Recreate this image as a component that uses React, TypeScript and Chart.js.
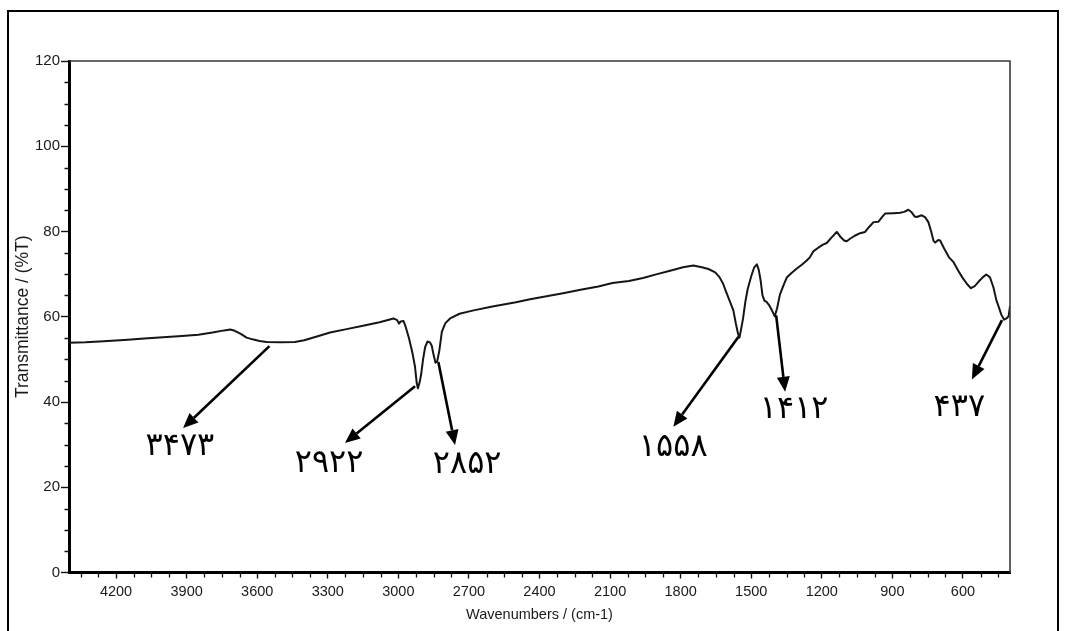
import { useEffect, useRef } from "react";
import { Chart, registerables } from "chart.js";
Chart.register(...registerables);

// Spectrum: wavenumber (cm-1) and transmittance (%T)
const wavenumbers = [
  4400, 4330, 4270, 4200, 4150, 4080, 4000, 3920, 3850, 3790, 3740, 3715, 3695, 3670, 3645, 3620, 3590, 3560,
  3500, 3440, 3400, 3350, 3290, 3220, 3150, 3080, 3040, 3021, 3005, 2997, 2990, 2978, 2968, 2955, 2940, 2929,
  2922, 2917, 2910, 2903, 2895, 2886, 2876, 2866, 2858, 2850, 2842, 2835, 2826, 2815, 2800, 2780, 2740, 2680,
  2600, 2500, 2440, 2370, 2300, 2220, 2150, 2090, 2020, 1960, 1900, 1845, 1790, 1746, 1710, 1682, 1653, 1635,
  1620, 1605, 1590, 1576, 1565, 1556, 1550, 1544, 1535, 1525, 1515, 1500, 1488, 1476, 1468, 1460, 1452, 1444,
  1435, 1425, 1412, 1400, 1390, 1378, 1362, 1349, 1330, 1306, 1285, 1264, 1250, 1235, 1215, 1195, 1179, 1160,
  1145, 1136, 1120, 1105, 1094, 1080, 1060, 1037, 1016, 1000, 980, 959, 945, 931, 895, 867, 850, 832, 818, 805,
  796, 775, 760, 747, 735, 725, 718, 705, 697, 680, 660, 640, 620, 600, 580, 566, 550, 534, 515, 501, 490, 484,
  470, 458, 449, 437, 425, 415, 406, 400,
];
const transmittance = [
  53.9, 54.0, 54.2, 54.4, 54.6, 54.9, 55.2, 55.5, 55.8, 56.3, 56.8, 57.0, 56.7, 56.0, 55.1, 54.7, 54.3, 54.1,
  54.0, 54.1, 54.5, 55.3, 56.3, 57.1, 57.9, 58.7, 59.3, 59.6, 59.2, 58.4, 58.9, 59.0, 57.5, 55.0, 51.5, 48.2,
  44.5, 43.2, 44.5, 46.5, 50.0, 52.9, 54.2, 54.0, 53.2, 51.0, 49.2, 49.5, 52.0, 56.5, 58.5, 59.6, 60.7, 61.5,
  62.4, 63.4, 64.1, 64.8, 65.5, 66.4, 67.1, 67.9, 68.4, 69.1, 70.0, 70.8, 71.6, 72.0, 71.6, 71.2, 70.4, 69.3,
  67.8, 65.6, 63.5, 61.5, 58.3, 56.0, 55.1, 56.8, 59.5, 63.5, 66.5, 69.5, 71.5, 72.3, 71.0, 68.5, 65.0, 63.8,
  63.5, 62.8, 61.5, 60.1, 62.0, 65.2, 67.5, 69.2, 70.2, 71.3, 72.2, 73.2, 74.0, 75.4, 76.2, 76.9, 77.3, 78.5,
  79.4, 79.9, 78.7, 77.9, 77.7, 78.3, 79.0, 79.6, 79.9, 81.0, 82.2, 82.3, 83.3, 84.2, 84.3, 84.4, 84.6, 85.1, 84.5, 83.5,
  83.4, 83.8, 83.3, 82.2, 80.0, 77.8, 77.4, 78.0, 77.9, 76.0, 74.0, 72.8, 70.8, 69.0, 67.5, 66.7, 67.2, 68.2, 69.3, 69.9, 69.5, 69.1,
  66.8, 63.9, 62.5, 60.5, 59.3, 59.6, 60.1, 62.5,
];

const xTickLabels = [4200, 3900, 3600, 3300, 3000, 2700, 2400, 2100, 1800, 1500, 1200, 900, 600];
const yTickLabels = [0, 20, 40, 60, 80, 100, 120];

// Peak annotations (Persian digits), in data units
const peakLabels = ["۳۴۷۳", "۲۹۲۲", "۲۸۵۲", "۱۵۵۸", "۱۴۱۲", "۴۳۷"];
const arrowFromX = [3548, 2929, 2830, 1554, 1394, 434];
const arrowFromY = [53.1, 43.7, 49.4, 55.3, 60.3, 59.2];
const arrowToX = [3915, 3227, 2759, 1831, 1356, 562];
const arrowToY = [33.9, 30.4, 29.9, 34.2, 42.4, 45.3];
const labelX = [3937, 3303, 2716, 1840, 1326, 624];
const labelY = [29.6, 25.6, 25.2, 29.2, 38.3, 38.6];

const FONT = "'Liberation Sans', Arial, sans-serif";

const framePlugin = {
  id: "frameAndMinorTicks",
  afterDraw(chart: any) {
    const { ctx, chartArea: a, scales } = chart;
    const xs = scales.x;
    const ys = scales.y;
    ctx.save();
    ctx.strokeStyle = "#3a3a3a";
    ctx.lineWidth = 1.6;
    ctx.beginPath();
    ctx.moveTo(a.left, a.top);
    ctx.lineTo(a.right, a.top);
    ctx.lineTo(a.right, a.bottom);
    ctx.stroke();

    ctx.strokeStyle = "#111";
    ctx.lineWidth = 1.3;
    ctx.beginPath();
    for (let v = 5; v < 120; v += 5) {
      if (v % 20 === 0) continue;
      const py = Math.round(ys.getPixelForValue(v)) + 0.5;
      ctx.moveTo(a.left - 4.5, py);
      ctx.lineTo(a.left, py);
    }
    for (let v = 450; v < 4400; v += 75) {
      if (v % 300 === 0) continue;
      const px = Math.round(xs.getPixelForValue(v)) + 0.5;
      ctx.moveTo(px, a.bottom);
      ctx.lineTo(px, a.bottom + 5);
    }
    ctx.stroke();
    ctx.restore();
  },
};

const arrowPlugin = {
  id: "peakArrows",
  afterDatasetsDraw(chart: any) {
    const { ctx, scales } = chart;
    const xs = scales.x;
    const ys = scales.y;
    ctx.save();
    ctx.strokeStyle = "#000";
    ctx.fillStyle = "#000";
    for (let i = 0; i < peakLabels.length; i++) {
      const x1 = xs.getPixelForValue(arrowFromX[i]);
      const y1 = ys.getPixelForValue(arrowFromY[i]);
      const x2 = xs.getPixelForValue(arrowToX[i]);
      const y2 = ys.getPixelForValue(arrowToY[i]);
      const ang = Math.atan2(y2 - y1, x2 - x1);
      const headLen = 15;
      const headW = 6.5;
      const bx = x2 - headLen * Math.cos(ang);
      const by = y2 - headLen * Math.sin(ang);
      ctx.lineWidth = 2.6;
      ctx.beginPath();
      ctx.moveTo(x1, y1);
      ctx.lineTo(bx, by);
      ctx.stroke();
      ctx.beginPath();
      ctx.moveTo(x2, y2);
      ctx.lineTo(bx + headW * Math.sin(ang), by - headW * Math.cos(ang));
      ctx.lineTo(bx - headW * Math.sin(ang), by + headW * Math.cos(ang));
      ctx.closePath();
      ctx.fill();

      ctx.font = "32px 'DejaVu Sans', sans-serif";
      (ctx as any).letterSpacing = "4px";
      ctx.textAlign = "center";
      ctx.textBaseline = "middle";
      ctx.fillText(peakLabels[i], xs.getPixelForValue(labelX[i]) + 2, ys.getPixelForValue(labelY[i]));
      (ctx as any).letterSpacing = "0px";
    }
    ctx.restore();
  },
};

export default function App() {
  const ref = useRef<HTMLCanvasElement | null>(null);

  useEffect(() => {
    if (!ref.current) return;
    const chart = new Chart(ref.current, {
      type: "line",
      data: {
        datasets: [
          {
            data: wavenumbers.map((w, i) => ({ x: w, y: transmittance[i] })),
            borderColor: "#151515",
            borderWidth: 2,
            pointRadius: 0,
            tension: 0,
            borderJoinStyle: "round",
            fill: false,
          },
        ],
      },
      options: {
        animation: false,
        responsive: false,
        devicePixelRatio: 1,
        layout: { padding: { left: 0, top: 61, right: 55, bottom: 0 } },
        plugins: { legend: { display: false }, tooltip: { enabled: false } },
        scales: {
          x: {
            type: "linear",
            reverse: true,
            min: 400,
            max: 4400,
            afterBuildTicks: (s: any) => {
              s.ticks = xTickLabels.map((v) => ({ value: v }));
            },
            afterFit: (s: any) => {
              s.height = 58.5;
            },
            grid: { display: true, drawOnChartArea: false, drawTicks: true, tickLength: 6, tickColor: "#111", tickWidth: 1.4 },
            border: { display: true, color: "#000", width: 3 },
            ticks: {
              color: "#1a1a1a",
              font: { family: FONT, size: 14.5 },
              padding: 5,
              maxRotation: 0,
              autoSkip: false,
              callback: (v: any) => String(v),
            },
            title: {
              display: true,
              text: "Wavenumbers / (cm-1)",
              color: "#1a1a1a",
              font: { family: FONT, size: 14.5 },
              padding: { top: 0, bottom: 7 },
            },
          },
          y: {
            type: "linear",
            min: 0,
            max: 120,
            afterBuildTicks: (s: any) => {
              s.ticks = yTickLabels.map((v) => ({ value: v }));
            },
            afterFit: (s: any) => {
              s.width = 69;
            },
            grid: { display: true, drawOnChartArea: false, drawTicks: true, tickLength: 8, tickColor: "#111", tickWidth: 1.4 },
            border: { display: true, color: "#000", width: 3 },
            ticks: {
              color: "#1a1a1a",
              font: { family: FONT, size: 15 },
              padding: 1,
              autoSkip: false,
              callback: (v: any) => String(v),
            },
            title: {
              display: true,
              text: "Transmittance / (%T)",
              color: "#1a1a1a",
              font: { family: FONT, size: 17.5 },
              padding: { top: 12.5, bottom: 0 },
            },
          },
        },
      },
      plugins: [framePlugin, arrowPlugin],
    } as any);
    return () => chart.destroy();
  }, []);

  return (
    <div style={{ position: "fixed", left: 0, top: 0, width: 1065, height: 631, overflow: "hidden", background: "#fff" }}>
      <div
        style={{
          position: "absolute",
          left: 7,
          top: 10,
          width: 1048,
          height: 640,
          border: "2px solid #000",
        }}
      />
      <canvas ref={ref} width={1065} height={631} style={{ position: "absolute", left: 0, top: 0, width: 1065, height: 631 }} />
    </div>
  );
}
